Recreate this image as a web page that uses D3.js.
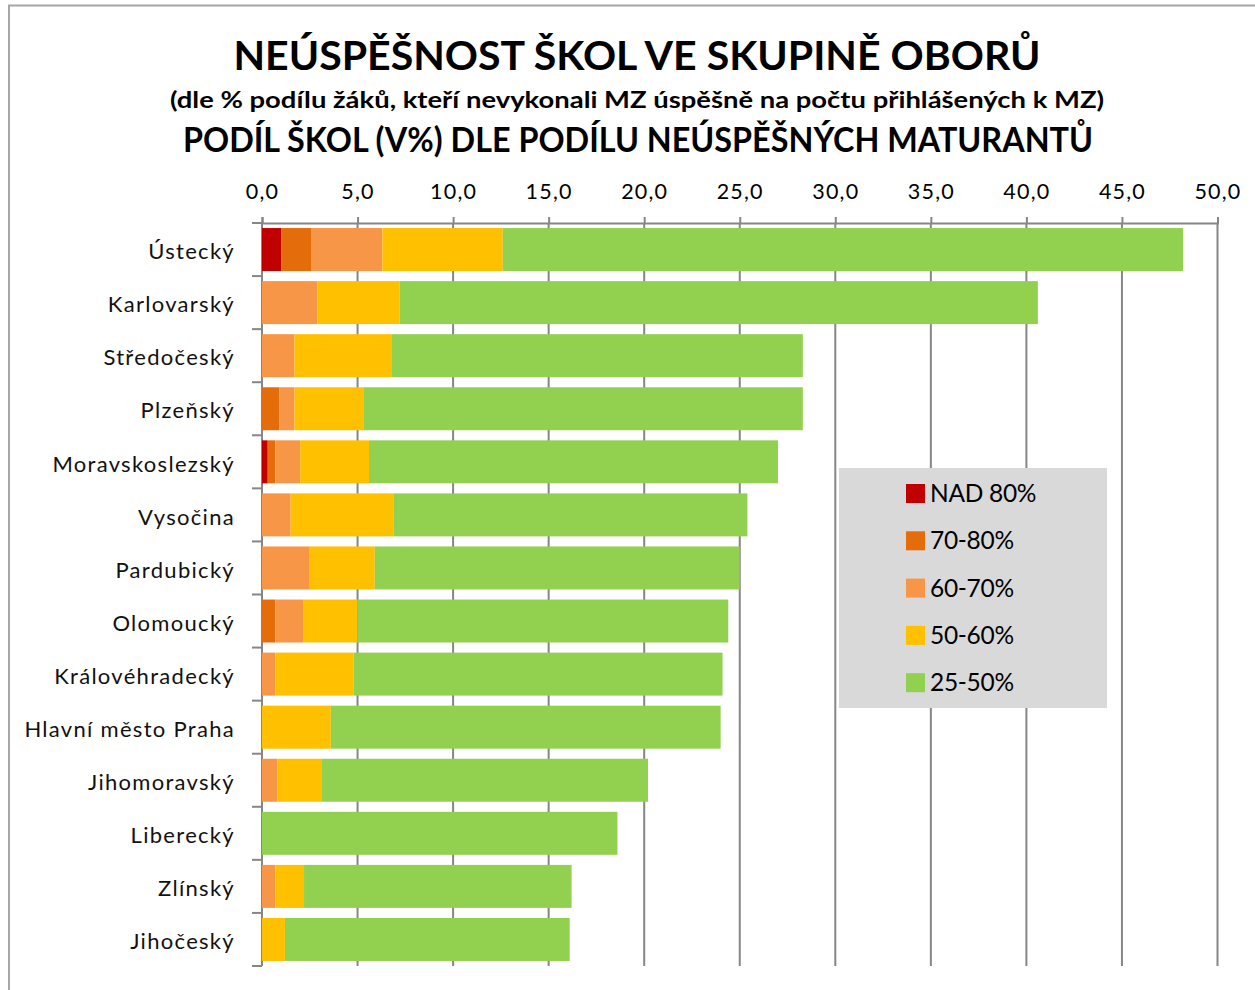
<!DOCTYPE html>
<html>
<head>
<meta charset="utf-8">
<script src="https://cdn.jsdelivr.net/npm/d3@7"></script>
<style>
  body { margin: 0; background: #fff; }
  text { font-family: Lato, "Open Sans", sans-serif; }
</style>
</head>
<body>
<svg id="screen" width="1255" height="990"></svg>
<script>
const screenEl = document.querySelector("#screen");

// data
const kraje = ["Ústecký","Karlovarský","Středočeský","Plzeňský","Moravskoslezský","Vysočina",
  "Pardubický","Olomoucký","Královéhradecký","Hlavní město Praha","Jihomoravský",
  "Liberecký","Zlínský","Jihočeský"];
const skupiny = ["NAD 80%","70-80%","60-70%","50-60%","25-50%"];
const nad80 =  [1.0, 0,   0,   0,   0.3, 0,   0,   0,   0,   0,   0,   0,    0,   0];
const p70_80 = [1.6, 0,   0,   0.9, 0.4, 0,   0,   0.7, 0,   0,   0,   0,    0,   0];
const p60_70 = [3.7, 2.9, 1.7, 0.8, 1.3, 1.5, 2.5, 1.45,0.7, 0,   0.8, 0,    0.7, 0];
const p50_60 = [6.3, 4.3, 5.1, 3.6, 3.6, 5.4, 3.4, 2.85,4.1, 3.6, 2.3, 0,    1.5, 1.2];
const p25_50 = [35.6,33.4,21.5,23.0,21.4,18.5,19.1,19.4,19.3,20.4,17.1,18.6, 14.0,14.9];
const barvy = ["#c00000","#e46c0a","#f79646","#ffc000","#92d050"];
const xTicks = [0,5,10,15,20,25,30,35,40,45,50];

const svg = d3.select(screenEl);

// frame
svg.append("path").attr("d","M9,990 V5.5 H1255").attr("fill","none")
  .attr("stroke","#a6a6a6").attr("stroke-width",2);

// titles
svg.append("text").attr("x",637).attr("y",70).attr("text-anchor","middle")
  .attr("font-size",40).attr("font-weight",700).attr("textLength",807).attr("lengthAdjust","spacingAndGlyphs")
  .text("NEÚSPĚŠNOST ŠKOL VE SKUPINĚ OBORŮ");
svg.append("text").attr("x",637).attr("y",108).attr("text-anchor","middle")
  .attr("font-size",23).attr("font-weight",700).attr("textLength",934).attr("lengthAdjust","spacingAndGlyphs")
  .text("(dle % podílu žáků, kteří nevykonali MZ úspěšně na počtu přihlášených k MZ)");
svg.append("text").attr("x",638).attr("y",152).attr("text-anchor","middle")
  .attr("font-size",35).attr("font-weight",700).attr("textLength",910).attr("lengthAdjust","spacingAndGlyphs")
  .text("PODÍL ŠKOL (V%) DLE PODÍLU NEÚSPĚŠNÝCH MATURANTŮ");

// scales
const x = d3.scaleLinear().domain([0,50]).range([262,1217.5]);
const y = d3.scaleBand().domain(kraje).range([223,966]).paddingInner(0.19).paddingOuter(0.095);

// gridlines
svg.append("g").selectAll("line").data(xTicks).join("line")
  .attr("x1",d => x(d)).attr("x2",d => x(d)).attr("y1",223).attr("y2",966)
  .attr("stroke","#868686").attr("stroke-width",2);

// top axis
const xAxis = svg.append("g").attr("transform","translate(0,223)")
  .call(d3.axisTop(x).tickValues(xTicks).tickSize(6).tickPadding(18)
    .tickFormat(d => d3.format(".1f")(d).replace(".",",")));
xAxis.select(".domain").attr("stroke","#868686").attr("stroke-width",2);
xAxis.selectAll(".tick line").attr("stroke","#868686").attr("stroke-width",2);
xAxis.selectAll(".tick text").attr("font-size",21.5).attr("fill","#000")
  .attr("letter-spacing",1.2).attr("font-family","Lato");

// left axis ticks at band edges
const edges = kraje.map(k => y(k) - y.step()*y.paddingInner()/2).concat([966]);
svg.append("g").selectAll("line").data(edges).join("line")
  .attr("x1",252).attr("x2",262).attr("y1",d => d).attr("y2",d => d)
  .attr("stroke","#868686").attr("stroke-width",2);

// category labels
svg.append("g").selectAll("text").data(kraje).join("text")
  .attr("x",235).attr("y",d => y(d) + y.bandwidth()/2 + 2).attr("dy","0.35em")
  .attr("text-anchor","end").attr("font-size",22).attr("letter-spacing",1.3).attr("fill","#111")
  .text(d => d);

// stacked bars
const rows = kraje.map((k,i) => ({kraj:k, s0:nad80[i], s1:p70_80[i], s2:p60_70[i], s3:p50_60[i], s4:p25_50[i]}));
const stack = d3.stack().keys(["s0","s1","s2","s3","s4"])(rows);
svg.append("g").selectAll("g").data(stack).join("g")
  .attr("fill",(d,i) => barvy[i])
  .selectAll("rect").data(d => d).join("rect")
  .attr("x",d => x(d[0])).attr("width",d => x(d[1]) - x(d[0]))
  .attr("y",d => y(d.data.kraj)).attr("height",y.bandwidth());

// legend
const lg = svg.append("g");
lg.append("rect").attr("x",839).attr("y",468).attr("width",268).attr("height",240).attr("fill","#d9d9d9");
const items = lg.selectAll("g").data(skupiny).join("g")
  .attr("transform",(d,i) => `translate(906,${484 + i*47.3})`);
items.append("rect").attr("width",19).attr("height",19).attr("fill",(d,i) => barvy[i]);
items.append("text").attr("x",24).attr("y",18).attr("font-size",24.5).attr("fill","#000")
  .attr("letter-spacing",-0.3).text(d => d);
</script>
</body>
</html>
